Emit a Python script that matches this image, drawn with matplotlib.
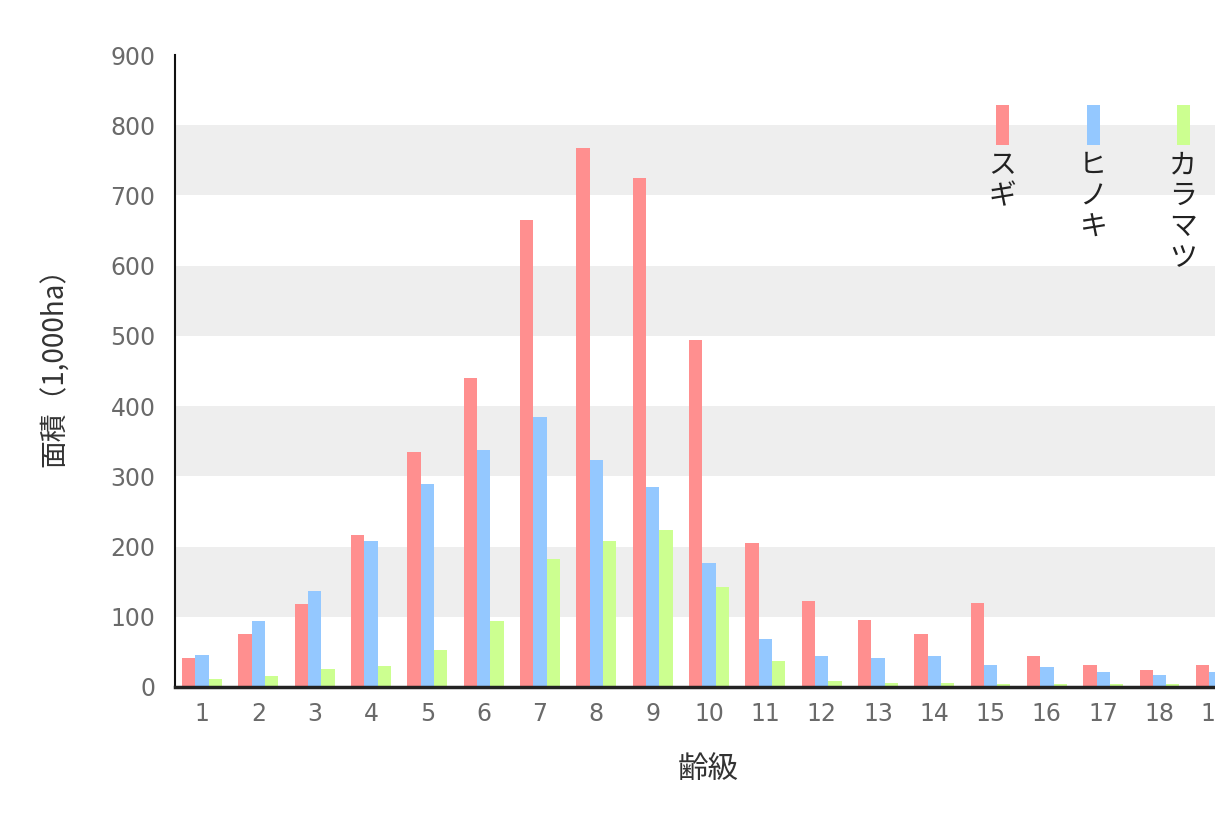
import numpy as np
import matplotlib
matplotlib.use("Agg")
from matplotlib import pyplot as plt
from matplotlib.patches import Rectangle

plt.rcParams["font.family"] = ["Noto Sans CJK JP", "DejaVu Sans"]

classes = list(range(1, 20))
sugi = [42, 76, 118, 216, 334, 440, 665, 767, 725, 494, 205, 122, 95, 76, 119, 44, 31, 24, 31]
hinoki = [45, 94, 137, 208, 289, 338, 384, 323, 285, 176, 68, 44, 41, 44, 32, 28, 21, 17, 21]
karamatsu = [11, 15, 26, 30, 53, 94, 182, 208, 224, 142, 37, 9, 5, 5, 4, 4, 4, 4, 4]
names = ["スギ", "ヒノキ", "カラマツ"]
colors = ["#ff8f8f", "#94c8ff", "#ccff90"]

W, H = 1215, 836
fig = plt.figure(figsize=(W / 100, H / 100), dpi=100)
ax = fig.add_axes([175 / W, (H - 687) / H, (1244 - 175) / W, (687 - 55) / H])

# gray bands
for lo in (100, 300, 500, 700):
    ax.axhspan(lo, lo + 100, color="#eeeeee", zorder=0, lw=0)

x = np.array(classes)
bw = 0.236
for i, (vals, c) in enumerate(zip([sugi, hinoki, karamatsu], colors)):
    ax.bar(x + (i - 1) * bw, vals, width=bw, color=c, zorder=2, lw=0)

ax.set_xlim(0.52, 19.5)
ax.set_ylim(0, 900)
ax.set_yticks(range(0, 901, 100))
ax.set_xticks(classes)
ax.set_xticklabels([str(c) for c in classes])
ax.tick_params(length=0, labelsize=17, labelcolor="#6a6a6a")
for lab in ax.get_xticklabels() + ax.get_yticklabels():
    lab.set_family("DejaVu Sans")
ax.tick_params(axis="y", pad=14)
ax.tick_params(axis="x", pad=11)
for s in ("top", "right"):
    ax.spines[s].set_visible(False)
ax.spines["left"].set_linewidth(1.5)
ax.spines["bottom"].set_linewidth(2.5)
ax.spines["left"].set_color("#111111")
ax.spines["bottom"].set_color("#222222")

fig.text(55 / W, 1 - 360 / H, "面積（1,000ha）", rotation=90, ha="center", va="center",
         fontsize=20, color="#333333")
fig.text(708 / W, 1 - 770 / H, "齢級", ha="center", va="center", fontsize=22, color="#333333")

# legend: small vertical swatches with vertical text
for xc, name, c in zip([1002, 1093, 1183], names, colors):
    fig.add_artist(Rectangle(((xc - 6.5) / W, 1 - 145 / H), 13 / W, 40 / H,
                             transform=fig.transFigure, color=c, lw=0))
    fig.text(xc / W, 1 - 150 / H, "\n".join(name), ha="center", va="top",
             fontsize=20, color="#222222", linespacing=1.05)

fig.savefig("out.png", dpi=100)
